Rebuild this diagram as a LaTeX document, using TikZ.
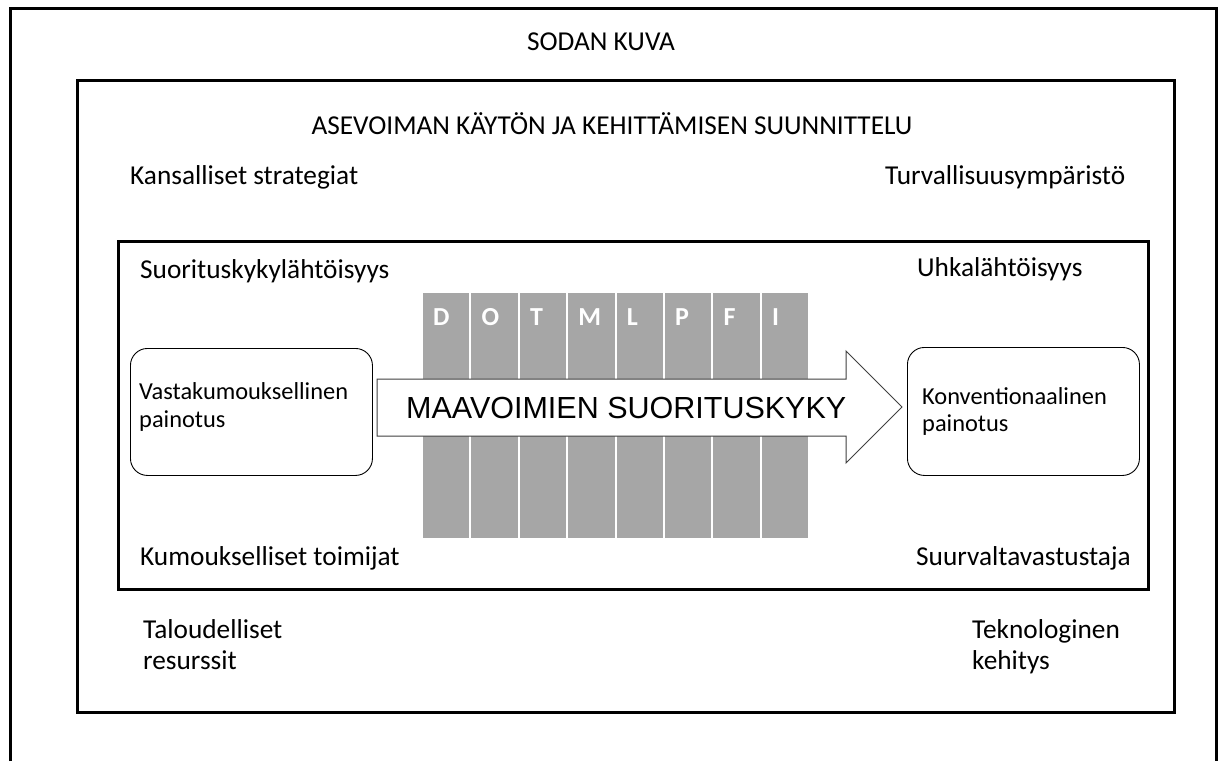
\documentclass[tikz,border=0pt]{standalone}
\usepackage{fontspec}
\setmainfont{Carlito}
\newfontfamily\arialf{Liberation Sans}
\definecolor{colgrey}{HTML}{A6A6A6}
\definecolor{arrowline}{HTML}{404040}
\begin{document}
\begin{tikzpicture}[x=1pt,y=-1pt,
  frame/.style={draw=black,line width=3pt},
  lbl/.style={font=\fontsize{27.3}{32}\selectfont,anchor=base west,inner sep=0pt},
  ttl/.style={font=\fontsize{27.3}{32}\selectfont,anchor=base,inner sep=0pt},
  boxlbl/.style={font=\fontsize{24.4}{29}\selectfont,anchor=base west,inner sep=0pt},
  rbox/.style={draw=black,line width=0.9pt,rounded corners=17pt,anchor=north west,inner sep=0pt},
  col/.style={fill=colgrey,draw=white,line width=2pt},
  letter/.style={font=\fontsize{26}{30}\selectfont\bfseries,text=white,anchor=base west,inner sep=0pt}]
\useasboundingbox (0,0) rectangle (1224,761);
\fill[white] (0,0) rectangle (1224,761);
% outer frame (open at bottom)
\draw[frame] (10,761) -- (10,8) -- (1216,8) -- (1216,761);
\node[ttl] (sodan) at (601,50) {SODAN KUVA};
% middle frame
\draw[frame] (77,80) rectangle (1174,712);
\node[ttl] (asev) at (612,134) {ASEVOIMAN KÄYTÖN JA KEHITTÄMISEN SUUNNITTELU};
\node[lbl] (kans) at (130,184) {Kansalliset strategiat};
\node[lbl] (turv) at (885,184) {Turvallisuusympäristö};
\node[lbl] (talo1) at (143,638) {Taloudelliset};
\node[lbl] (talo2) at (143,669) {resurssit};
\node[lbl] (tekn1) at (972,638) {Teknologinen};
\node[lbl] (tekn2) at (972,669) {kehitys};
% inner frame
\draw[frame] (118,241) rectangle (1148,589);
\node[lbl] (suor) at (140,278) {Suorituskykylähtöisyys};
\node[lbl] (uhka) at (917,276) {Uhkalähtöisyys};
\node[lbl] (kumo) at (140,565) {Kumoukselliset toimijat};
\node[lbl] (suur) at (916,565) {Suurvaltavastustaja};
% DOTMLPFI columns
\foreach \i/\l in {0/D,1/O,2/T,3/M,4/L,5/P,6/F,7/I}{
  \path[col] ({422+\i*48.4},292) rectangle ({422+(\i+1)*48.4},539);
  \node[letter] (let\l) at ({433+\i*48.4},325) {\l};
}
% big arrow
\draw[arrowline,fill=white,line width=1pt,line join=miter]
  (377,379) -- (846,379) -- (846,351) -- (902,407) -- (846,463) -- (846,436) -- (377,436) -- cycle;
\node[font=\arialf\fontsize{30.5}{34}\selectfont,anchor=base west,inner sep=0pt] (maav) at (406,418) {MAAVOIMIEN SUORITUSKYKY};
% rounded boxes
\node[rbox,minimum width=242pt,minimum height=127pt] (lbox) at (130,348) {};
\node[rbox,minimum width=232pt,minimum height=128pt] (rbox) at (907,347) {};
\node[boxlbl] (vast1) at (139,399) {Vastakumouksellinen};
\node[boxlbl] (vast2) at (139,427) {painotus};
\node[boxlbl] (konv1) at (922,404) {Konventionaalinen};
\node[boxlbl] (konv2) at (922,431) {painotus};
\end{tikzpicture}
\end{document}
